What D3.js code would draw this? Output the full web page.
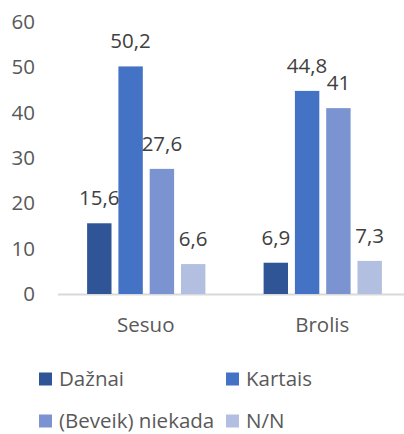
<html>
<head>
    <meta charset="utf-8">
    <title>Bar</title>
    <style>
        body { margin: 0; background: #fff; }
        text { font-family: "Open Sans", sans-serif; fill: #595959; }
    </style>
</head>
<body>
<div id="bar"></div>
</body>
<script src="https://d3js.org/d3.v7.min.js"></script>
<script>

  const categories = ['Sesuo', 'Brolis']
  const seriesNames = ['Dažnai', 'Kartais', '(Beveik) niekada', 'N/N']
  const dazhnai = [15.6, 6.9]
  const kartais = [50.2, 44.8]
  const niekada = [27.6, 41]
  const nn = [6.6, 7.3]
  const yTicks = [0, 10, 20, 30, 40, 50, 60]
  const colors = ['#2F5597', '#4472C4', '#7B93D0', '#B3BFE0']

  const width = 404
  const height = 434
  const fontSize = '20.5px'
  const allSeries = [dazhnai, kartais, niekada, nn]

  const svg = d3.select('#bar')
    .append('svg')
    .attr('width', width)
    .attr('height', height)

  // scales
  const xScale = d3.scaleBand().domain(categories).range([58, 411])
  const inner = d3.scaleBand().domain(seriesNames)
    .range([0, xScale.bandwidth()]).paddingInner(0.22).paddingOuter(0.93)
  const yScale = d3.scaleLinear().domain([0, 60]).range([294, 22])

  // y axis labels only
  const yAxis = d3.axisLeft(yScale).tickValues(yTicks).tickSize(0).tickPadding(0)
  const yg = svg.append('g').attr('transform', 'translate(35, 0)').call(yAxis)
  yg.select('.domain').remove()
  yg.selectAll('text').style('font-size', fontSize).style('fill', '#595959')
    .style('font-family', '"Open Sans", sans-serif')

  // baseline
  svg.append('line')
    .attr('x1', 58).attr('x2', 411)
    .attr('y1', yScale(0) + 0.5).attr('y2', yScale(0) + 0.5)
    .attr('stroke', '#D9D9D9').attr('stroke-width', 2)

  // bars
  const bars = []
  categories.forEach((c, ci) => {
    seriesNames.forEach((s, si) => {
      bars.push({cat: c, series: s, value: allSeries[si][ci], color: colors[si]})
    })
  })

  svg.selectAll('rect.bar')
    .data(bars)
    .join('rect')
    .attr('class', 'bar')
    .attr('x', d => xScale(d.cat) + inner(d.series))
    .attr('y', d => yScale(d.value))
    .attr('width', inner.bandwidth())
    .attr('height', d => yScale(0) - yScale(d.value))
    .attr('fill', d => d.color)

  // value labels
  svg.selectAll('text.val')
    .data(bars)
    .join('text')
    .attr('class', 'val')
    .attr('x', d => xScale(d.cat) + inner(d.series) + inner.bandwidth() / 2)
    .attr('y', d => yScale(d.value) - 18)
    .attr('text-anchor', 'middle')
    .style('font-size', fontSize)
    .style('fill', '#404040')
    .text(d => String(d.value).replace('.', ','))

  // category labels
  svg.selectAll('text.cat')
    .data(categories)
    .join('text')
    .attr('class', 'cat')
    .attr('x', d => xScale(d) + xScale.bandwidth() / 2 - 0.5)
    .attr('y', 332)
    .attr('text-anchor', 'middle')
    .style('font-size', fontSize)
    .text(d => d)

  // legend
  const legendPos = [[39, 379], [226, 379], [39, 421], [226, 421]]
  const legend = svg.selectAll('g.leg')
    .data(seriesNames)
    .join('g')
    .attr('class', 'leg')
    .attr('transform', (d, i) => `translate(${legendPos[i][0]}, ${legendPos[i][1]})`)
  legend.append('rect')
    .attr('x', 0).attr('y', -6.5).attr('width', 13).attr('height', 13)
    .attr('fill', (d, i) => colors[i])
  legend.append('text')
    .attr('x', 20).attr('y', 6.5)
    .style('font-size', fontSize)
    .text(d => d)

</script>
</html>
